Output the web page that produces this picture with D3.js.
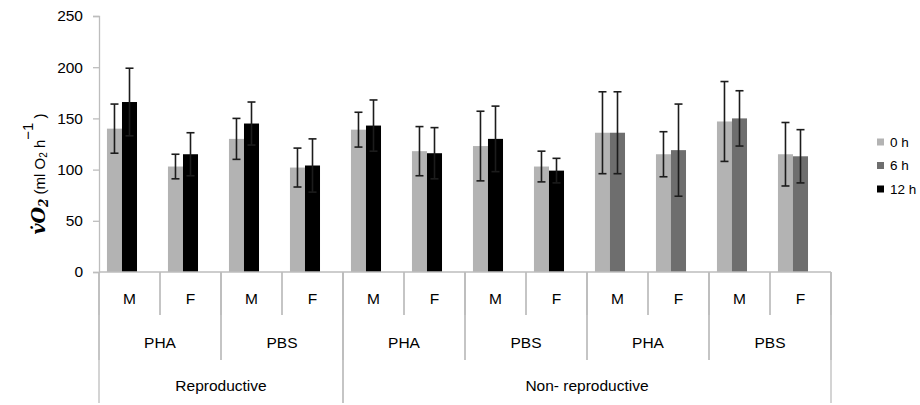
<!DOCTYPE html>
<html>
<head>
<meta charset="utf-8">
<script src="https://cdn.jsdelivr.net/npm/d3@7"></script>
<style>
  body { margin: 0; background: #fff; }
  text { font-family: "Liberation Sans", Arial, sans-serif; fill: #000; }
</style>
</head>
<body>
<svg id="chart" width="920" height="405"></svg>
<script>
// chart values
var sexes      = ["M","F","M","F","M","F","M","F","M","F","M","F"];
var treatments = ["PHA","PHA","PBS","PBS","PHA","PHA","PBS","PBS","PHA","PHA","PBS","PBS"];
var groupNames = ["Reproductive","Reproductive","Reproductive","Reproductive",
                  "Non- reproductive","Non- reproductive","Non- reproductive","Non- reproductive",
                  "Non- reproductive","Non- reproductive","Non- reproductive","Non- reproductive"];
var h0     = [140, 103, 130, 102, 139, 118, 123, 103, 136, 115, 147, 115];
var h0Err  = [ 24,  12,  20,  19,  17,  24,  34,  15,  40,  22,  39,  31];
var h6     = [null,null,null,null,null,null,null,null, 136, 119, 150, 113];
var h6Err  = [null,null,null,null,null,null,null,null,  40,  45,  27,  26];
var h12    = [166, 115, 145, 104, 143, 116, 130,  99, null,null,null,null];
var h12Err = [ 33,  21,  21,  26,  25,  25,  32,  12, null,null,null,null];
var yTicks = [0, 50, 100, 150, 200, 250];
var seriesNames = ["0 h", "6 h", "12 h"];
var seriesColors = ["#b3b3b3", "#6e6e6e", "#000000"];

var svg = d3.select("#chart");
var plotL = 99, plotR = 831, plotT = 16, plotB = 272;

var x = d3.scaleBand().domain(d3.range(sexes.length)).range([plotL, plotR]).padding(0);
var slot = d3.scaleBand().domain([0, 1, 2]).range([0, x.bandwidth()])
    .paddingInner(0).paddingOuter(0.53);
var y = d3.scaleLinear().domain([0, 250]).range([plotB, plotT]);

// y axis
var yAxis = svg.append("g").attr("transform", "translate(" + plotL + ",0)")
  .call(d3.axisLeft(y).tickValues(yTicks).tickSize(6).tickPadding(10));
yAxis.select(".domain").attr("stroke", "#bdbdbd").attr("stroke-width", 1.3);
yAxis.selectAll(".tick line").attr("stroke", "#bdbdbd").attr("stroke-width", 1.3);
yAxis.selectAll(".tick text").style("font-size", "15.5px")
  .style("font-family", "'Liberation Sans', Arial, sans-serif").attr("fill", "#000");

// bars: 0 h in the first slot, 6 h or 12 h next to it
var bars = [];
sexes.forEach(function(s, i) {
  bars.push({i: i, k: 0, v: h0[i], e: h0Err[i]});
  if (h6[i] != null) bars.push({i: i, k: 1, v: h6[i], e: h6Err[i]});
  if (h12[i] != null) bars.push({i: i, k: 2, v: h12[i], e: h12Err[i]});
});

var g = svg.append("g");
g.selectAll("rect.bar").data(bars).enter().append("rect")
  .attr("class", "bar")
  .attr("x", function(d) { return x(d.i) + slot(d.k == 0 ? 0 : 1); })
  .attr("width", slot.bandwidth())
  .attr("y", function(d) { return y(d.v); })
  .attr("height", function(d) { return y(0) - y(d.v); })
  .attr("fill", function(d) { return seriesColors[d.k]; });

// error bars
var eb = g.selectAll("g.err").data(bars).enter().append("g").attr("class", "err")
  .attr("stroke", "#1c1c1c").attr("stroke-width", 1.6);
function cx(d) { return x(d.i) + slot(d.k == 0 ? 0 : 1) + slot.bandwidth() / 2; }
eb.append("line")
  .attr("x1", cx).attr("x2", cx)
  .attr("y1", function(d) { return y(d.v + d.e); })
  .attr("y2", function(d) { return y(d.v - d.e); });
eb.append("line")
  .attr("x1", function(d) { return cx(d) - 4; }).attr("x2", function(d) { return cx(d) + 4; })
  .attr("y1", function(d) { return y(d.v + d.e); }).attr("y2", function(d) { return y(d.v + d.e); });
eb.append("line")
  .attr("x1", function(d) { return cx(d) - 4; }).attr("x2", function(d) { return cx(d) + 4; })
  .attr("y1", function(d) { return y(d.v - d.e); }).attr("y2", function(d) { return y(d.v - d.e); });

// multi-level category axis
var ax = svg.append("g").attr("stroke", "#bdbdbd").attr("stroke-width", 1.3);
ax.append("line").attr("x1", plotL).attr("x2", plotR).attr("y1", plotB).attr("y2", plotB);

// runs of equal labels, broken wherever a parent level changes
function runs(arr, parents) {
  var out = [];
  arr.forEach(function(v, i) {
    var brk = i == 0 || v != arr[i - 1] || parents.some(function(p) { return p[i] != p[i - 1]; });
    if (brk) out.push({label: v, start: i, end: i});
    else out[out.length - 1].end = i;
  });
  return out;
}
var levels = [
  {items: sexes.map(function(v, i) { return {label: v, start: i, end: i}; }), depth: 315, labelY: 304},
  {items: runs(treatments, [groupNames]), depth: 360, labelY: 348},
  {items: runs(groupNames, []),           depth: 403, labelY: 391}
];

levels.forEach(function(lv) {
  lv.items.forEach(function(it) {
    var x0 = x(it.start), x1 = x(it.end) + x.bandwidth();
    ax.append("line").attr("x1", x0).attr("x2", x0).attr("y1", plotB).attr("y2", lv.depth);
    ax.append("line").attr("x1", x1).attr("x2", x1).attr("y1", plotB).attr("y2", lv.depth);
    svg.append("text").attr("x", (x0 + x1) / 2).attr("y", lv.labelY)
      .attr("text-anchor", "middle").style("font-size", "15.5px").text(it.label);
  });
});

// y axis title
var title = svg.append("text")
  .attr("transform", "translate(45,174) rotate(-90)")
  .attr("text-anchor", "middle");
title.append("tspan").style("font-family", "'DejaVu Serif', serif")
  .style("font-weight", "bold").style("font-style", "italic").style("font-size", "19px")
  .text("v\u0307O");
title.append("tspan").style("font-family", "'DejaVu Serif', serif")
  .style("font-weight", "bold").style("font-style", "italic").style("font-size", "12px")
  .attr("dy", 3).text("2");
title.append("tspan").style("font-size", "15px").attr("dy", -3).text("  (ml O");
title.append("tspan").style("font-size", "10px").attr("dy", 2).text("2");
title.append("tspan").style("font-size", "15px").attr("dy", -2).text(" h");
title.append("tspan").style("font-size", "15px").attr("dy", -12).text("\u22121");
title.append("tspan").style("font-size", "15px").attr("dy", 12).text(" )");

// legend
var legend = svg.append("g").attr("transform", "translate(877,142)");
seriesNames.forEach(function(n, i) {
  var row = legend.append("g").attr("transform", "translate(0," + (i * 23.5) + ")");
  row.append("rect").attr("x", 0).attr("y", -3.5).attr("width", 7).attr("height", 7)
    .attr("fill", seriesColors[i]);
  row.append("text").attr("x", 13).attr("y", 0).attr("dy", "0.35em")
    .style("font-size", "13.5px").text(n);
});
</script>
</body>
</html>
